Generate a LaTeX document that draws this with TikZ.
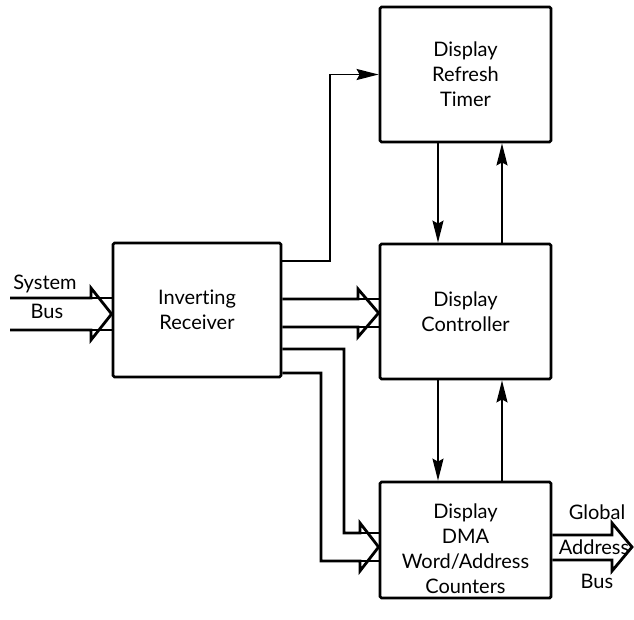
\documentclass[tikz,border=0pt]{standalone}
\usepackage{fontspec}
\setmainfont{Lato}[Ligatures=NoCommon]
\usetikzlibrary{arrows.meta,calc}
\begin{document}
\begin{tikzpicture}[x=1pt,y=-1pt,
  blk/.style={draw,line width=2.8pt,rounded corners=1.5pt,inner sep=0pt,align=center,
    font=\fontsize{20}{25}\selectfont},
  txt/.style={inner sep=0pt,align=center,font=\fontsize{20}{25}\selectfont},
  conn/.style={line width=1.7pt,-{Stealth[length=22pt,width=11pt,inset=3pt]}},
  bus/.style={line width=2.8pt,line join=miter},
  thin/.style={line width=1.1pt}]
\useasboundingbox (0,0) rectangle (634,619);
% boxes
\node[blk,minimum width=168pt,minimum height=134pt] (recv) at (197,310) {Inverting\\Receiver};
\node[blk,minimum width=171pt,minimum height=135pt] (timer) at (465.5,74.5) {Display\\Refresh\\Timer};
\node[blk,minimum width=171pt,minimum height=135pt] (ctrl) at (465.5,311.5) {Display\\Controller};
\node[blk,minimum width=171pt,minimum height=116pt] (dma) at (465.5,540) {};
\node[txt] (dmatext) at (465.5,549) {Display\\DMA\\Word/Address\\Counters};
% labels
\node[txt] (sys) at (45,284) {System};
\node[txt] (sysb) at (47,311) {Bus};
\node[txt] (glob) at (597,512) {Global};
\node[txt] (gaddr) at (594,547) {Address};
\node[txt] (gbus) at (597,581) {Bus};
% receiver -> timer
\draw[conn] (recv.east |- 0,261) -- (330,261) |- (timer.west);
% timer <-> controller
\draw[conn] (timer.south -| 438,0) -- (ctrl.north -| 438,0);
\draw[conn] (ctrl.north -| 502,0) -- (timer.south -| 502,0);
% controller <-> dma
\draw[conn] (ctrl.south -| 438,0) -- (dma.north -| 438,0);
\draw[conn] (dma.north -| 502,0) -- (ctrl.south -| 502,0);
% system bus
\coordinate (sbs) at (10,298);
\draw[bus] (sbs) -- (91,298) -- (91,288) -- (recv.west |- 0,314) -- (91,340) -- (91,330) -- (10,330);
\draw[thin] (91,298) -- (recv.west |- 0,298);
\draw[thin] (91,330) -- (recv.west |- 0,330);
% receiver -> controller bus
\draw[bus] (recv.east |- 0,299) -- (358,299) -- (358,289) -- (ctrl.west |- 0,313) -- (358,337) -- (358,327) -- (recv.east |- 0,327);
\draw[thin] (358,299) -- (ctrl.west |- 0,299);
\draw[thin] (358,327) -- (ctrl.west |- 0,327);
% receiver -> dma bus
\draw[bus] (recv.east |- 0,349) -- (344,349) -- (344,533) -- (360,533) -- (360,523) -- (dma.west |- 0,547) -- (360,571) -- (360,561) -- (321,561) -- (321,373) -- (recv.east |- 0,373);
\draw[thin] (360,533) -- (dma.west |- 0,533);
\draw[thin] (360,561) -- (dma.west |- 0,561);
% global address bus
\draw[bus] (dma.east |- 0,535) -- (612,535) -- (612,523) -- (632,547) -- (612,571) -- (612,560) -- (dma.east |- 0,560);
\end{tikzpicture}
\end{document}
